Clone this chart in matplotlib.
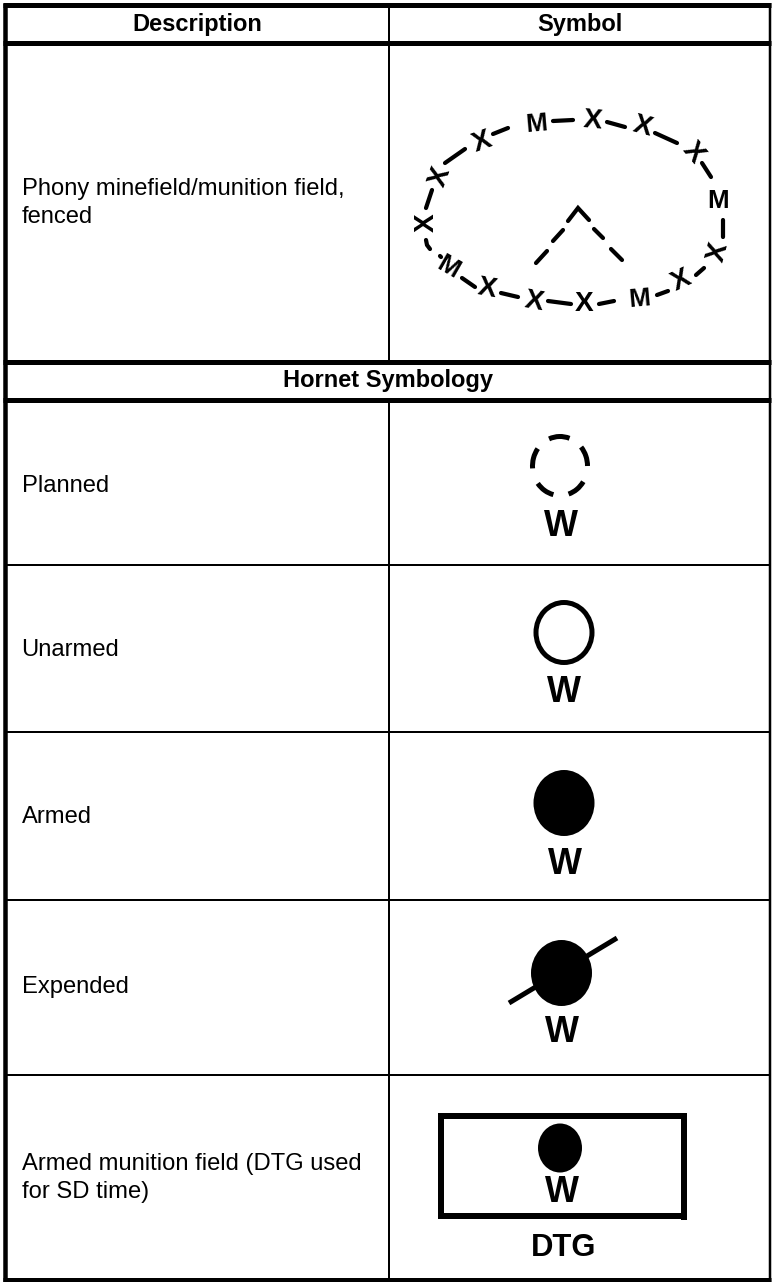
import matplotlib
matplotlib.use("Agg")
import matplotlib.pyplot as plt
from matplotlib.patches import Ellipse, Arc, Rectangle

plt.rcParams['font.family'] = ['Liberation Sans', 'DejaVu Sans']

# table rules, pixel positions
thin_rows = [565, 732, 900, 1074.5]
thick_rows = [5, 42.5, 362, 400, 1280]
col_x = 389.3

headers = ["Description", "Symbol"]
section = "Hornet Symbology"
descriptions = ["Phony minefield/munition field,\nfenced", "Planned", "Unarmed", "Armed",
                "Expended", "Armed munition field (DTG used\nfor SD time)"]
desc_y = [203, 486, 650, 817, 987, 1178]

# fence letters round the phony field: x, y, rotation
x_marks = [(427, 223, 90), (440, 177, 70), (482, 142, 20), (593, 121, -5), (643, 127, -15),
           (693, 153, -50), (718, 252, 75), (681, 281, 25), (584, 304, 0), (534, 302, -10),
           (487, 289, -10)]
m_marks = [(536, 124, 5), (718, 201, 0), (639, 299, 5), (448, 267, -30)]
fence_dashes = [[(426, 208), (432, 190)], [(426, 240), (427, 245), (430, 249)], [(445, 163), (465, 149)],
                [(493, 134), (508, 128)], [(553, 121), (573, 120)], [(607, 122), (625, 127)],
                [(655, 133), (677, 143)], [(702, 163), (711, 177)], [(723, 220), (723, 237)],
                [(696, 275), (704, 268)], [(657, 295), (668, 291)], [(599, 304), (614, 301)],
                [(548, 301), (571, 304)], [(501, 293), (518, 297)], [(462, 278), (475, 287)],
                [(440, 256), (441, 257)]]
tri_dashes = [[(536, 263), (547, 251)], [(553, 241), (563, 230)], [(568, 221), (578, 208), (589, 220)],
              [(594, 229), (603, 238)], [(611, 249), (622, 260)]]

planned_arcs = [(-112, -71), (-42, 0), (34, 73), (103, 142), (175, 218)]
w_labels = [(561, 523), (564, 688), (565, 860), (562, 1029), (562, 1188)]
slash = [(509, 1003), (617, 938)]

fig = plt.figure(figsize=(7.72, 12.82), dpi=100)
ax = fig.add_axes([0, 0, 1, 1])
ax.set_xlim(0, 772)
ax.set_ylim(1282, 0)
ax.axis('off')


def px(w):
    return w * 0.72


def rule(xs, ys, w):
    ax.plot(xs, ys, color='k', lw=px(w), solid_capstyle='butt', solid_joinstyle='miter')


for y in thick_rows:
    rule([3, 771], [y, y], 5)
for y in thin_rows:
    rule([5, 771], [y, y], 2)
rule([5, 5], [2.5, 1282], 4.5)
rule([770, 770], [2.5, 1282], 2.5)
rule([col_x, col_x], [5, 362], 2)
rule([col_x, col_x], [400, 1280], 2)

ax.text(197, 24, headers[0], fontsize=px(23.6), fontweight='bold', ha='center', va='center')
ax.text(580, 24, headers[1], fontsize=px(23.6), fontweight='bold', ha='center', va='center')
ax.text(388, 380, section, fontsize=px(23.6), fontweight='bold', ha='center', va='center')
for txt, y in zip(descriptions, desc_y):
    ax.text(21.5, y, txt, fontsize=px(23.8), ha='left', va='center', linespacing=1.4)

for x, y, r in x_marks:
    ax.text(x, y, "X", family=['Liberation Sans Narrow', 'Liberation Sans'], fontsize=px(28),
            fontweight='bold', rotation=r, ha='center', va='center', rotation_mode='anchor')
for x, y, r in m_marks:
    ax.text(x, y, "M", family=['Liberation Sans Narrow', 'Liberation Sans'], fontsize=px(26),
            fontweight='bold', rotation=r, ha='center', va='center', rotation_mode='anchor')
for d in fence_dashes + tri_dashes:
    ax.plot([p[0] for p in d], [p[1] for p in d], color='k', lw=px(4.2), solid_capstyle='round',
            solid_joinstyle='miter')

for t1, t2 in planned_arcs:
    ax.add_patch(Arc((560, 466), 55, 59, theta1=t1, theta2=t2, color='k', lw=px(5)))
ax.add_patch(Ellipse((564, 632.5), 56, 60, fill=False, ec='k', lw=px(5)))
ax.add_patch(Ellipse((564, 803), 61, 66, fc='k', ec='none'))
ax.plot([slash[0][0], slash[1][0]], [slash[0][1], slash[1][1]], color='k', lw=px(5), solid_capstyle='butt')
ax.add_patch(Ellipse((561.5, 973), 61, 66, fc='k', ec='none'))
ax.add_patch(Rectangle((441, 1116), 243, 100, fill=False, ec='k', lw=px(6), joinstyle='miter'))
rule([684, 684], [1216, 1220], 6)
ax.add_patch(Ellipse((560, 1148), 44, 49, fc='k', ec='none'))

for x, y in w_labels:
    ax.text(x, y, "W", fontsize=px(36), fontweight='bold', ha='center', va='center_baseline')
ax.text(564, 1244, "DTG", fontsize=px(31), fontweight='bold', ha='center', va='center_baseline')

fig.savefig("out.png", dpi=100, facecolor='white')
